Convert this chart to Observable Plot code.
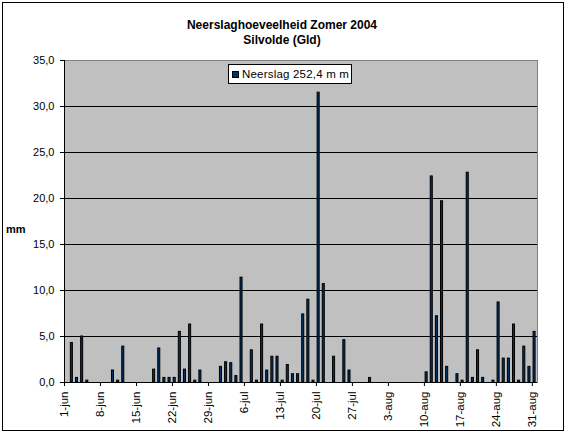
<!DOCTYPE html>
<html>
<head>
<meta charset="utf-8">
<script src="https://cdn.jsdelivr.net/npm/d3@7"></script>
<script src="https://cdn.jsdelivr.net/npm/@observablehq/plot@0.6"></script>
<style>
  html, body { margin: 0; padding: 0; background: #fff; }
  #wrap { position: relative; width: 570px; height: 435px; font-family: "Liberation Sans", Arial, sans-serif; color: #000; }
  #wrap svg { position: absolute; left: 0; top: 0; }
  #border { position: absolute; left: 2px; top: 2px; width: 562px; height: 429px; border: 1px solid #000; box-sizing: border-box; pointer-events: none; }
  .title { position: absolute; left: 0; width: 564px; text-align: center; font-weight: bold; font-size: 12px; line-height: 14px; white-space: nowrap; }
  #ylabel { position: absolute; left: 6px; top: 222px; font-weight: bold; font-size: 11px; line-height: 14px; }
  #legend { position: absolute; left: 228px; top: 64px; width: 124px; height: 20px; box-sizing: border-box; border: 1px solid #000; background: #fff; }
  #legend .sw { position: absolute; left: 3px; top: 6px; width: 7px; height: 7px; box-sizing: border-box; border: 1px solid #000; background: #003366; }
  #legend .tx { position: absolute; left: 13px; top: 2px; font-size: 11.5px; line-height: 14px; letter-spacing: 0.2px; white-space: nowrap; }
</style>
</head>
<body>
<div id="wrap">
  <div id="border"></div>
</div>
<script>
// Daily precipitation (mm), Silvolde, summer 2004
const june = [0, 4.3, 0.5, 5.0, 0.2, 0, 0, 0, 0, 1.3, 0.2, 3.9, 0, 0, 0, 0, 0, 1.4, 3.7, 0.5, 0.5, 0.5, 5.5, 1.4, 6.3, 0.2, 1.3, 0, 0, 0];
const july = [1.7, 2.2, 2.1, 0.7, 11.4, 0, 3.5, 0.2, 6.3, 1.3, 2.8, 2.8, 0.2, 1.9, 0.9, 0.9, 7.4, 9.0, 0.2, 31.5, 10.7, 0, 2.8, 0, 4.6, 1.3, 0, 0, 0, 0.5, 0];
const august = [0, 0, 0, 0, 0, 0, 0, 0, 0, 1.1, 22.4, 7.2, 19.7, 1.7, 0, 0.9, 0.2, 22.8, 0.5, 3.5, 0.5, 0, 0.2, 8.7, 2.6, 2.6, 6.3, 0.2, 3.9, 1.7, 5.5];
const tickLabels = ["1-jun", "8-jun", "15-jun", "22-jun", "29-jun", "6-jul", "13-jul", "20-jul", "27-jul", "3-aug", "10-aug", "17-aug", "24-aug", "31-aug"];
const yTicks = [0, 5, 10, 15, 20, 25, 30, 35];
const titleLines = ["Neerslaghoeveelheid Zomer 2004", "Silvolde (Gld)"];
const seriesName = "Neerslag 252,4 m m";
const yLabel = "mm";

const start = new Date(Date.UTC(2004, 5, 1));
const end = new Date(Date.UTC(2004, 8, 1));
const days = d3.utcDay.range(start, end);
const values = [...june, ...july, ...august];
const data = days.map((date, i) => ({date, mm: values[i]}));
const tickDates = d3.utcDay.range(start, end, 7);
const labelOf = new Map(tickDates.map((d, i) => [+d, tickLabels[i]]));
const comma = d => d3.format(".1f")(d).replace(".", ",");

const chart = Plot.plot({
  width: 570,
  height: 435,
  marginLeft: 64,
  marginRight: 33,
  marginTop: 60,
  marginBottom: 53,
  style: {fontFamily: "'Liberation Sans', Arial, sans-serif", fontSize: "11px", background: "transparent", color: "#000", overflow: "visible"},
  x: {type: "utc", domain: [start, end]},
  y: {domain: [0, 35]},
  marks: [
    Plot.frame({fill: "#c0c0c0", stroke: "#808080"}),
    Plot.ruleY(yTicks.filter(v => v > 0 && v < 35), {stroke: "#000", strokeWidth: 1}),
    Plot.rectY(data.filter(d => d.mm > 0), {x: "date", interval: d3.utcDay, y: "mm", fill: "#003366", stroke: "#000", strokeWidth: 1, insetLeft: 1.2, insetRight: 1.9}),
    Plot.ruleX([start], {stroke: "#000"}),
    Plot.ruleY([0], {stroke: "#000"}),
    Plot.axisY({ticks: yTicks, tickSize: 4, tickPadding: 6, tickFormat: comma, label: null, fontSize: 11}),
    Plot.axisX({ticks: tickDates, tickSize: 4, tickRotate: -90, tickPadding: 5, tickFormat: d => labelOf.get(+d), label: null, fontSize: 11.5})
  ]
});

const wrap = document.getElementById("wrap");
wrap.insertBefore(chart, wrap.firstChild);

titleLines.forEach((t, i) => {
  const el = document.createElement("div");
  el.className = "title";
  el.style.top = (18 + i * 15) + "px";
  el.textContent = t;
  wrap.appendChild(el);
});

const yl = document.createElement("div");
yl.id = "ylabel";
yl.textContent = yLabel;
wrap.appendChild(yl);

const lg = document.createElement("div");
lg.id = "legend";
lg.innerHTML = '<div class="sw"></div><div class="tx"></div>';
lg.querySelector(".tx").textContent = seriesName;
wrap.appendChild(lg);
</script>
</body>
</html>
